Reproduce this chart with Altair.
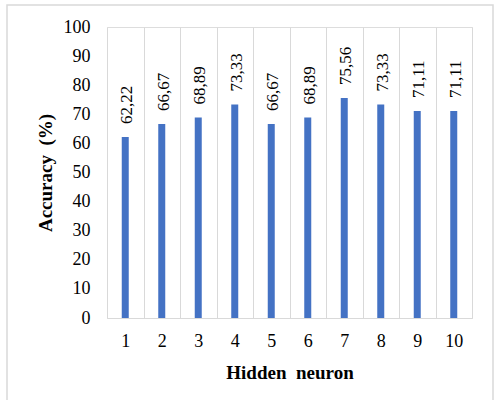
import altair as alt
import pandas as pd

neurons = [1, 2, 3, 4, 5, 6, 7, 8, 9, 10]
accuracy = [62.22, 66.67, 68.89, 73.33, 66.67, 68.89, 75.56, 73.33, 71.11, 71.11]
labels = [f"{v:.2f}".replace(".", ",") for v in accuracy]

df = pd.DataFrame({"n": neurons, "acc": accuracy, "lab": labels})

FONT = "Times New Roman, Liberation Serif, serif"
GRAY = "#d9d9d9"
BLUE = "#4472C4"

x_enc = alt.X(
    "n:O",
    title="Hidden\u00a0\u00a0neuron",
    scale=alt.Scale(paddingInner=0, paddingOuter=0),
    axis=alt.Axis(
        labelAngle=0,
        grid=True,
        gridColor=GRAY,
        tickBand="extent",
        ticks=False,
        domainColor=GRAY,
        labelPadding=14,
        titleBaseline="middle",
        titleY=54,
    ),
)

y_enc = alt.Y(
    "acc:Q",
    title="Accuracy\u00a0\u00a0(%)",
    scale=alt.Scale(domain=[0, 100]),
    axis=alt.Axis(
        values=[0, 10, 20, 30, 40, 50, 60, 70, 80, 90, 100],
        tickCount=11,
        labelOverlap=False,
        grid=False,
        domain=False,
        ticks=False,
        labelPadding=17,
        titleBaseline="middle",
        titleX=-62,
    ),
)

bars = alt.Chart().mark_bar(color=BLUE, size=7)

text = alt.Chart().mark_text(
    angle=270, align="left", baseline="middle", dx=13, dy=2,
    font=FONT, fontSize=17, color="black",
).encode(text="lab:N")

plot = alt.layer(bars, text, data=df).encode(x=x_enc, y=y_enc)

border = alt.Chart(alt.Data(values=[{"a": 1}])).mark_rect(
    fill=None, stroke=GRAY, strokeWidth=1.5, clip=False
).encode(
    x=alt.value(-100), x2=alt.value(386), y=alt.value(-22), y2=alt.value(378)
)

chart = alt.layer(border, plot).properties(
    width=365,
    height=291,
    autosize=alt.AutoSizeParams(type="none"),
    padding={"left": 107, "top": 27, "right": 26, "bottom": 82},
).configure_view(stroke=None).configure(
    background="white", font=FONT
).configure_axis(
    labelFont=FONT,
    labelFontSize=18,
    labelColor="black",
    titleFont=FONT,
    titleFontSize=19,
    titleFontWeight="bold",
    titleColor="black",
).configure_text(font=FONT)

chart.save("out.html", embed_options={"renderer": "svg", "actions": False})
